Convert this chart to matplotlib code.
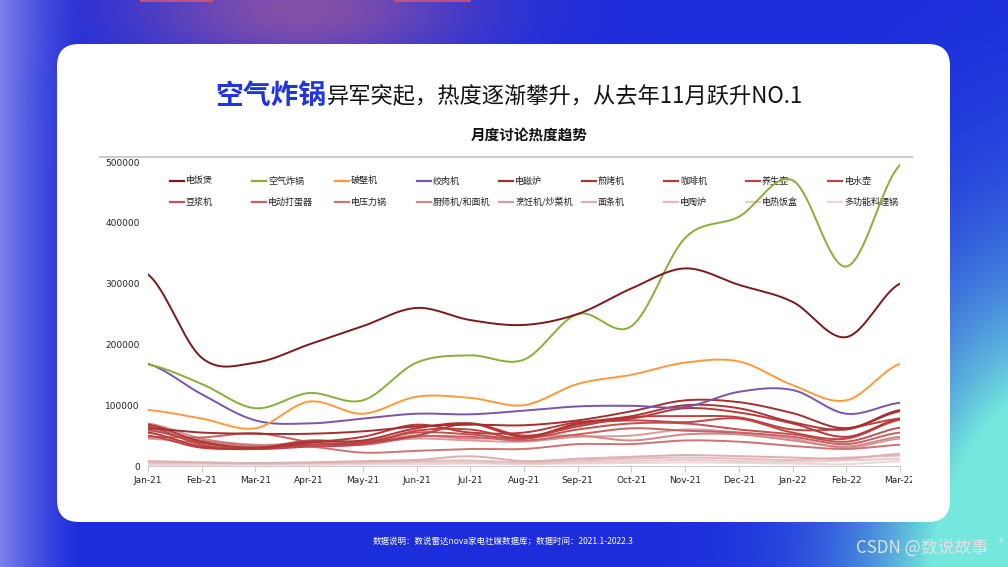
import numpy as np
import matplotlib
matplotlib.use("Agg")
from matplotlib import pyplot as plt
from matplotlib.patches import FancyBboxPatch
from matplotlib.lines import Line2D
from matplotlib.transforms import Bbox

plt.rcParams['font.family'] = ['Noto Sans CJK SC', 'DejaVu Sans']

months = ['Jan-21', 'Feb-21', 'Mar-21', 'Apr-21', 'May-21', 'Jun-21', 'Jul-21', 'Aug-21',
          'Sep-21', 'Oct-21', 'Nov-21', 'Dec-21', 'Jan-22', 'Feb-22', 'Mar-22']

# monthly discussion volume per appliance
rice_cooker = [315000, 178000, 170000, 200000, 230000, 260000, 240000, 232000, 250000, 292000, 325000, 298000, 270000, 212000, 300000]
air_fryer = [167000, 135000, 95000, 120000, 108000, 170000, 182000, 175000, 250000, 230000, 375000, 410000, 470000, 328000, 495000]
blender = [92000, 78000, 62000, 106000, 86000, 114000, 112000, 100000, 135000, 150000, 170000, 172000, 133000, 108000, 168000]
meat_grinder = [168000, 118000, 75000, 70000, 78000, 86000, 85000, 91000, 98000, 99000, 97000, 122000, 125000, 86000, 104000]
induction = [62000, 55000, 53000, 53000, 57000, 65000, 68000, 67000, 75000, 90000, 108000, 105000, 87000, 62000, 92000]
grill = [68000, 40000, 30000, 40000, 42000, 62000, 70000, 48000, 70000, 82000, 100000, 95000, 72000, 60000, 90000]
coffee = [55000, 32000, 28000, 38000, 48000, 68000, 55000, 55000, 72000, 78000, 95000, 88000, 70000, 48000, 78000]
health_pot = [50000, 30000, 30000, 35000, 38000, 50000, 70000, 50000, 65000, 80000, 82000, 80000, 60000, 62000, 78000]
kettle = [65000, 35000, 28000, 32000, 36000, 58000, 60000, 45000, 68000, 75000, 72000, 78000, 55000, 45000, 76000]
soymilk = [60000, 38000, 30000, 42000, 40000, 55000, 52000, 45000, 60000, 70000, 70000, 60000, 52000, 40000, 63000]
egg_beater = [48000, 47000, 54000, 40000, 35000, 48000, 48000, 42000, 52000, 62000, 58000, 55000, 48000, 36000, 55000]
pressure = [58000, 42000, 33000, 32000, 22000, 25000, 28000, 28000, 36000, 36000, 42000, 40000, 33000, 28000, 35000]
chef_machine = [70000, 45000, 35000, 38000, 40000, 50000, 45000, 48000, 50000, 42000, 52000, 52000, 42000, 32000, 48000]
cooking_robot = [45000, 38000, 32000, 35000, 38000, 45000, 42000, 40000, 48000, 50000, 60000, 55000, 45000, 30000, 45000]
noodle = [8000, 6000, 5000, 6000, 8000, 10000, 16000, 8000, 12000, 15000, 18000, 16000, 14000, 12000, 20000]
ceramic = [6000, 5000, 4000, 5000, 6000, 8000, 9000, 6000, 9000, 12000, 14000, 12000, 10000, 14000, 17000]
lunchbox = [4000, 4000, 3000, 4000, 5000, 6000, 6000, 4000, 6000, 8000, 10000, 8000, 7000, 9000, 12000]
multi_pot = [2000, 2000, 2000, 2000, 3000, 3000, 4000, 3000, 4000, 5000, 6000, 5000, 4000, 3000, 8000]

names = ['电饭煲', '空气炸锅', '破壁机', '绞肉机', '电磁炉', '煎烤机', '咖啡机', '养生壶', '电水壶',
         '豆浆机', '电动打蛋器', '电压力锅', '厨师机/和面机', '烹饪机/炒菜机', '面条机', '电陶炉', '电热饭盒', '多功能料理锅']
series = [rice_cooker, air_fryer, blender, meat_grinder, induction, grill, coffee, health_pot, kettle,
          soymilk, egg_beater, pressure, chef_machine, cooking_robot, noodle, ceramic, lunchbox, multi_pot]
colors = ['#7a1a1a', '#8aae3c', '#ff9a3c', '#7a55ad', '#a32f2f', '#ad3535', '#b53a3a', '#bd4242', '#c04646',
          '#c05252', '#c66262', '#cb7474', '#d28686', '#d99c9c', '#dfaeae', '#e4bcbc', '#eacaca', '#efd6d6']


def smooth(y, n=20):
    # catmull-rom through the points, only for drawing
    y = np.asarray(y, dtype=float)
    p = np.concatenate([[y[0]], y, [y[-1]]])
    xs, ys = [], []
    for i in range(len(y) - 1):
        t = np.linspace(0, 1, n, endpoint=False)
        p0, p1, p2, p3 = p[i], p[i + 1], p[i + 2], p[i + 3]
        seg = 0.5 * ((2 * p1) + (-p0 + p2) * t + (2 * p0 - 5 * p1 + 4 * p2 - p3) * t ** 2
                     + (-p0 + 3 * p1 - 3 * p2 + p3) * t ** 3)
        xs.append(i + t)
        ys.append(seg)
    xs.append([len(y) - 1])
    ys.append([y[-1]])
    return np.concatenate(xs), np.concatenate(ys)


W, H = 1008, 567
fig = plt.figure(figsize=(W / 100, H / 100), dpi=100)

# background gradient
gx, gy = np.meshgrid(np.arange(W), np.arange(H))
base = np.array([0x1c, 0x2d, 0xdc]) / 255.0
img = np.ones((H, W, 3)) * base
purple = np.array([0x85, 0x50, 0xa8]) / 255.0
w = np.exp(-(((gx - 300) / 170.0) ** 2 + ((gy - 10) / 60.0) ** 2))
img = img * (1 - w[..., None]) + purple * w[..., None]
light = np.array([0x7c, 0x80, 0xe8]) / 255.0
w = np.clip(1 - gx / 80.0, 0, 1) ** 1.3
img = img * (1 - w[..., None]) + light * w[..., None]
cyan = np.array([0x74, 0xe8, 0xdc]) / 255.0
w = np.exp(-(((gx - 1060) / 175.0) ** 2 + ((gy - 620) / 300.0) ** 2))
w = np.clip(w * 1.8, 0, 1)
img = img * (1 - w[..., None]) + cyan * w[..., None]
bg = fig.add_axes([0, 0, 1, 1])
bg.imshow(img, aspect='auto', extent=[0, W, H, 0])
bg.set_xlim(0, W)
bg.set_ylim(H, 0)
bg.axis('off')
bg.plot([141, 212], [0.6, 0.6], color='#e0506a', lw=1.2)
bg.plot([395, 470], [0.6, 0.6], color='#e0506a', lw=1.2)

# white card
card = FancyBboxPatch((57, 44), 893, 478, boxstyle='round,pad=0,rounding_size=22',
                      facecolor='white', edgecolor='none')
bg.add_patch(card)
bg.plot([100, 912], [156.5, 156.5], color='#cccccc', lw=1.5)

bg.text(326, 96, '空气炸锅', color='#1f35e0', fontsize=20, fontweight='bold', ha='right', va='center')
bg.text(327, 97, '异军突起，热度逐渐攀升，从去年11月跃升NO.1', color='#111111', fontsize=16, ha='left', va='center')
bg.text(529, 135, '月度讨论热度趋势', color='#111111', fontsize=10.5, fontweight='bold', ha='center', va='center')
bg.text(503, 541, '数据说明：数说雷达nova家电社媒数据库；数据时间：2021.1-2022.3', color='white', fontsize=6.1,
        ha='center', va='center')
bg.text(856, 548, 'CSDN @数说故事', color='#dde4e4', fontsize=12.2, ha='left', va='center')
bg.text(999, 541, '5', color='#e8eeee', fontsize=5.5, ha='left', va='center')

# chart
ax = fig.add_axes([148 / W, 1 - 466 / H, 752 / W, 304 / H])
ax.set_facecolor('none')
x = np.arange(len(months))
for name, vals, c in reversed(list(zip(names, series, colors))):
    sx, sy = smooth(vals)
    ax.plot(sx, sy, color=c, lw=1.4, label=name)
ax.set_xlim(0, len(months) - 1)
ax.set_ylim(0, 500000)
ax.set_yticks([0, 100000, 200000, 300000, 400000, 500000])
ax.set_yticklabels(['0', '100000', '200000', '300000', '400000', '500000'], family='DejaVu Sans')
ax.set_xticks(x)
ax.set_xticklabels(months, family='DejaVu Sans')
for s in ['top', 'right', 'left']:
    ax.spines[s].set_visible(False)
ax.spines['bottom'].set_color('#cccccc')
ax.tick_params(axis='y', length=0, labelsize=6.5, pad=6, labelcolor='#222222')
ax.tick_params(axis='x', length=4, color='#cccccc', labelsize=6.5, pad=3, labelcolor='#222222')
clip = Bbox([[0, 0], [912, H]])
for lab in ax.get_xticklabels():
    lab.set_clip_box(clip)
    lab.set_clip_on(True)

# legend, two rows of nine
for i, (name, c) in enumerate(zip(names, colors)):
    row, col = divmod(i, 9)
    lx = 170 + col * 82.3
    ly = 181 + row * 21
    bg.add_line(Line2D([lx, lx + 14], [ly, ly], color=c, lw=1.6))
    bg.text(lx + 16, ly, name, fontsize=6.5, color='#222222', ha='left', va='center')

fig.savefig('out.png', dpi=100)
